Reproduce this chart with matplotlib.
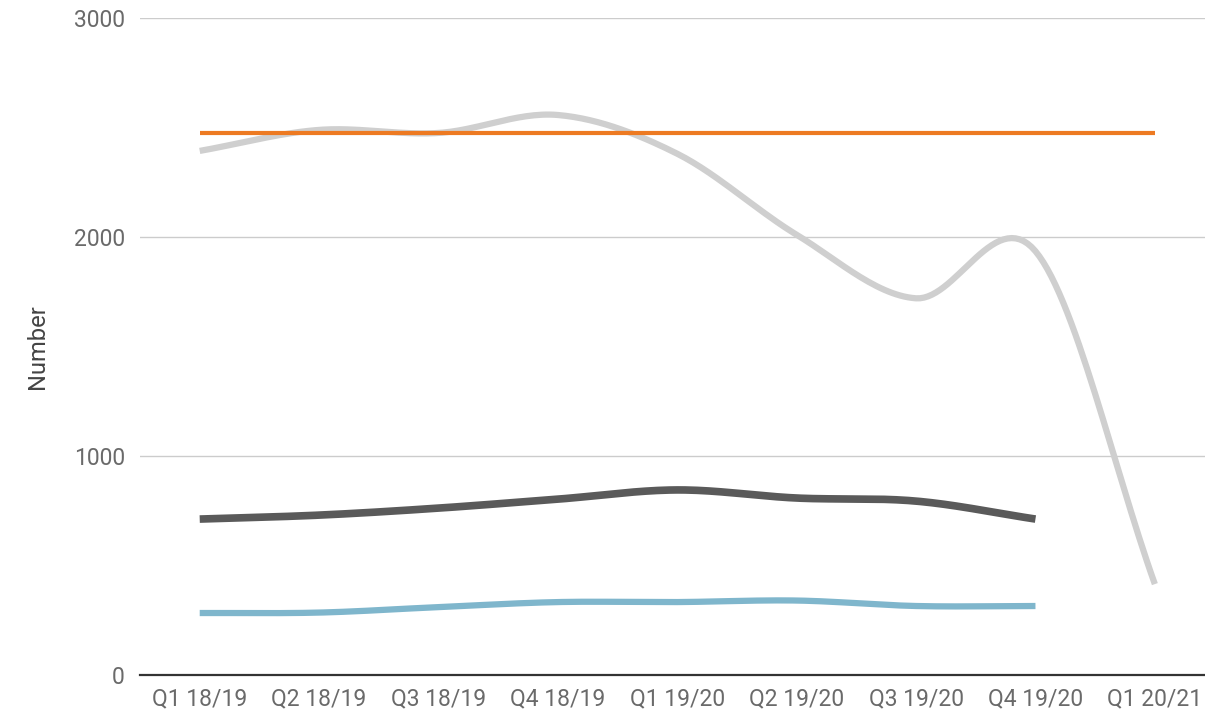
import numpy as np
import matplotlib.pyplot as plt

plt.rcParams["font.family"] = ["Roboto", "DejaVu Sans"]

quarters = [
    "Q1 18/19", "Q2 18/19", "Q3 18/19", "Q4 18/19",
    "Q1 19/20", "Q2 19/20", "Q3 19/20", "Q4 19/20", "Q1 20/21",
]

light_series = [2393, 2489, 2475, 2557, 2380, 2010, 1720, 1935, 415]
target_series = [2475] * 9
dark_series = [712, 730, 762, 803, 845, 808, 794, 712]
blue_series = [283, 285, 310, 333, 333, 340, 315, 315]


def smooth(values, steps=30):
    # Catmull-Rom spline through the points, just for the curved look
    y = np.asarray(values, dtype=float)
    n = len(y)
    xs, ys = [], []
    for i in range(n - 1):
        p0 = y[i - 1] if i > 0 else y[i]
        p1 = y[i]
        p2 = y[i + 1]
        p3 = y[i + 2] if i + 2 < n else y[i + 1]
        m1 = (p2 - p0) / (2 if i > 0 else 1)
        m2 = (p3 - p1) / (2 if i + 2 < n else 1)
        t = np.linspace(0, 1, steps, endpoint=False)
        h00 = 2 * t**3 - 3 * t**2 + 1
        h10 = t**3 - 2 * t**2 + t
        h01 = -2 * t**3 + 3 * t**2
        h11 = t**3 - t**2
        xs.append(i + t)
        ys.append(h00 * p1 + h10 * m1 + h01 * p2 + h11 * m2)
    xs.append([n - 1])
    ys.append([y[-1]])
    return np.concatenate(xs), np.concatenate(ys)


fig = plt.figure(figsize=(12.05, 7.19), dpi=100)
ax = fig.add_axes([0.1162, 0.0612, 0.8838, 0.9138])

for series, color, lw in [
    (light_series, "#cfcfcf", 4.5),
    (dark_series, "#5a5a5a", 5.5),
    (blue_series, "#7fb6cc", 4.5),
    (target_series, "#ed7a22", 3.0),
]:
    sx, sy = smooth(series)
    ax.plot(sx, sy, color=color, linewidth=lw, solid_capstyle="butt", zorder=3)

ax.set_xlim(-0.5, 8.42)
ax.set_ylim(0, 3000)
ax.set_yticks([0, 1000, 2000, 3000])
ax.set_xticks(range(len(quarters)))
ax.set_xticklabels(quarters)
ax.tick_params(axis="both", length=0, labelsize=16.5, colors="#6a6a6a")
ax.tick_params(axis="y", pad=11)
ax.tick_params(axis="x", pad=9)

ax.grid(axis="y", color="#cccccc", linewidth=1.0, zorder=0)
ax.set_axisbelow(True)
for side in ["top", "right", "left"]:
    ax.spines[side].set_visible(False)
ax.spines["bottom"].set_color("#333333")
ax.spines["bottom"].set_linewidth(1.6)
ax.spines["bottom"].set_zorder(4)

ax.set_ylabel("Number", fontsize=17, color="#444444", labelpad=18)

fig.savefig("out.png", dpi=100)
